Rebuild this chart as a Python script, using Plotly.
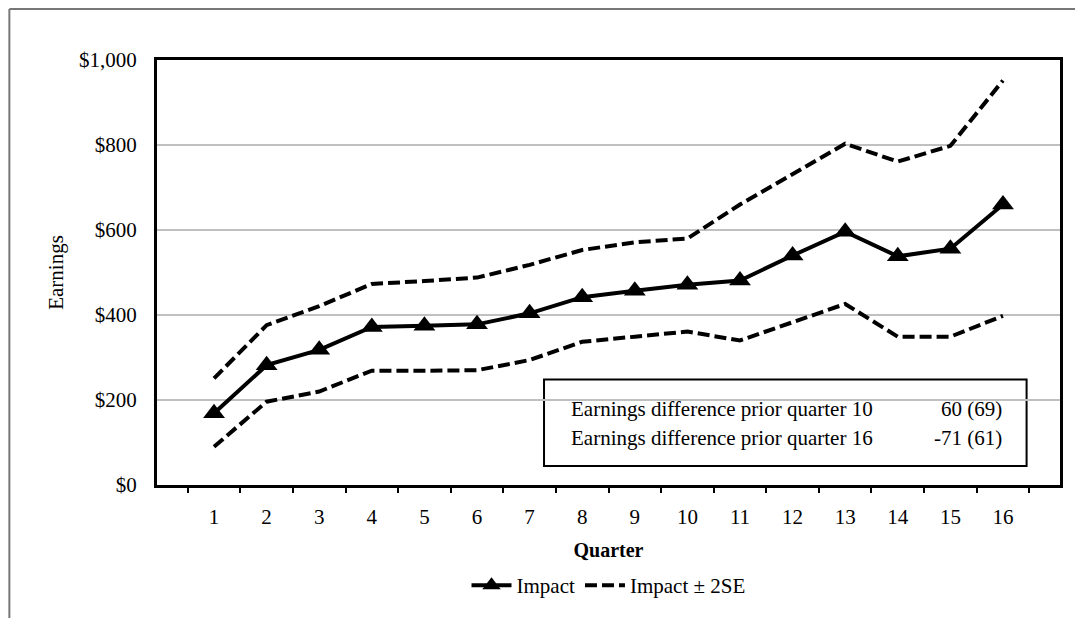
import plotly.graph_objects as go

# quarters and estimates
quarters = [str(q) for q in range(1, 17)]
impact = [169, 282, 318, 372, 375, 378, 404, 442, 457, 471, 481, 540, 596, 538, 556, 660]
upper = [251, 376, 421, 473, 480, 488, 518, 553, 571, 580, 660, 732, 803, 761, 798, 952]
lower = [90, 196, 220, 269, 269, 270, 294, 337, 349, 361, 340, 383, 426, 349, 349, 398]

# text box
box_labels = ["Earnings difference prior quarter 10", "Earnings difference prior quarter 16"]
box_values = ["60 (69)", "-71 (61)"]

serif = "Liberation Serif, Times New Roman, serif"

fig = go.Figure()

fig.add_trace(go.Scatter(
    x=quarters, y=impact, name="Impact", mode="lines+markers",
    line=dict(color="black", width=4),
    marker=dict(symbol="triangle-up", size=19, color="black"),
))
fig.add_trace(go.Scatter(
    x=quarters, y=upper, name="Impact \u00b1 2SE", mode="lines",
    line=dict(color="black", width=4, dash="12px,5px"),
))
fig.add_trace(go.Scatter(
    x=quarters, y=lower, name="Impact \u00b1 2SE", mode="lines", showlegend=False,
    line=dict(color="black", width=4, dash="12px,5px"),
))

# box with the two differences
annotations = []
line_y = [0.178, 0.110]
for lab, val, yy in zip(box_labels, box_values, line_y):
    annotations.append(dict(x=0.4566, y=yy, xref="paper", yref="paper", text=lab,
                            showarrow=False, xanchor="left", yanchor="middle",
                            font=dict(family=serif, size=21, color="black")))
    annotations.append(dict(x=0.9375, y=yy, xref="paper", yref="paper", text=val,
                            showarrow=False, xanchor="right", yanchor="middle",
                            font=dict(family=serif, size=21, color="black")))

shapes = [
    dict(type="rect", xref="paper", yref="paper", x0=0.4286, x1=0.963, y0=0.0445, y1=0.248,
         line=dict(color="black", width=2), fillcolor="white", layer="below"),
    # outer frame (top and left edges)
    dict(type="line", xref="paper", yref="paper", x0=-0.1635, x1=1.1, y0=1.12, y1=1.12,
         line=dict(color="#777777", width=2)),
    dict(type="line", xref="paper", yref="paper", x0=-0.1635, x1=-0.1635, y0=1.12, y1=-0.35,
         line=dict(color="#777777", width=2)),
]

fig.update_layout(
    width=1075, height=610,
    margin=dict(l=149, r=23, t=52, b=131),
    paper_bgcolor="white", plot_bgcolor="white",
    font=dict(family=serif, size=21, color="black"),
    showlegend=True,
    legend=dict(orientation="h", x=0.5, xanchor="center", y=-0.2365, yanchor="middle",
                font=dict(family=serif, size=21), itemwidth=40),
    annotations=annotations,
    shapes=shapes,
)

fig.update_xaxes(
    type="category", tickson="boundaries", ticks="outside", ticklen=5, tickwidth=2,
    tickcolor="black", showline=True, linecolor="black", linewidth=3, mirror=True,
    showgrid=False, ticklabelstandoff=11,
    title=dict(text="<b>Quarter</b>", font=dict(size=20), standoff=15),
    tickfont=dict(size=21),
)
fig.update_yaxes(
    range=[0, 1000], dtick=200, tickprefix="$", tickformat=",d",
    showline=True, linecolor="black", linewidth=3, mirror=True,
    showgrid=True, gridcolor="#c0c0c0", gridwidth=2, zeroline=False,
    ticklabelstandoff=13,
    title=dict(text="Earnings", font=dict(size=21), standoff=10),
    tickfont=dict(size=21),
)

fig.write_html("out.html")
